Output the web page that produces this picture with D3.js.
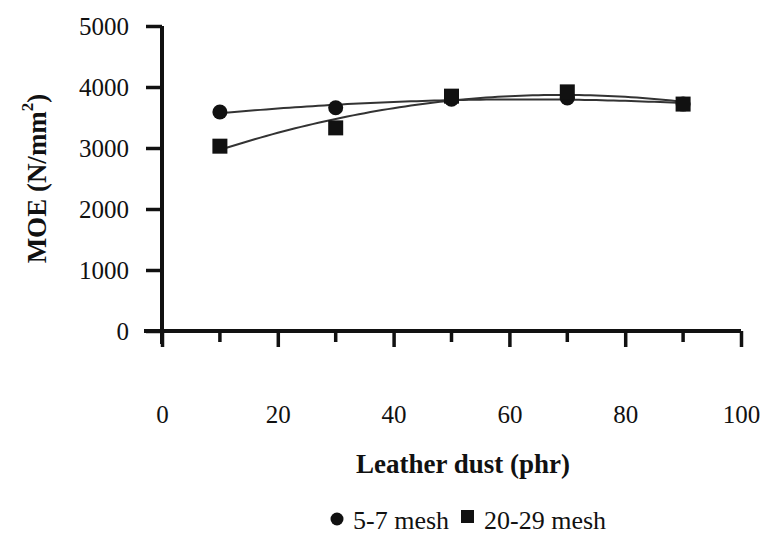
<!DOCTYPE html>
<html><head><meta charset="utf-8">
<script src="https://cdn.jsdelivr.net/npm/d3@7"></script>
<style>body{margin:0;background:#fff}svg{display:block}text{font-family:"Liberation Serif","Times New Roman",serif;fill:#111}</style>
</head><body><svg id="c" width="764" height="537"></svg>
<script>
const xValues = [10, 30, 50, 70, 90];
const mesh57 = [3590, 3660, 3800, 3820, 3720];
const mesh2029 = [3030, 3330, 3850, 3920, 3720];
const seriesNames = ["5-7 mesh", "20-29 mesh"];
const xTicks = [0, 20, 40, 60, 80, 100];
const xMinorTicks = [10, 30, 50, 70, 90];
const yTicks = [0, 1000, 2000, 3000, 4000, 5000];

const svg = d3.select("#c");
const x = d3.scaleLinear().domain([0, 100]).range([162, 741]);
const y = d3.scaleLinear().domain([0, 5000]).range([331, 26]);

// quadratic trendline fit (least squares)
function polyFit(xs, ys, deg) {
  const n = deg + 1;
  const A = Array.from({length: n}, () => new Array(n + 1).fill(0));
  for (let i = 0; i < xs.length; i++) {
    for (let r = 0; r < n; r++) {
      for (let c = 0; c < n; c++) A[r][c] += Math.pow(xs[i], r + c);
      A[r][n] += ys[i] * Math.pow(xs[i], r);
    }
  }
  for (let i = 0; i < n; i++) {
    let p = i;
    for (let k = i + 1; k < n; k++) if (Math.abs(A[k][i]) > Math.abs(A[p][i])) p = k;
    [A[i], A[p]] = [A[p], A[i]];
    for (let k = 0; k < n; k++) if (k !== i) {
      const f = A[k][i] / A[i][i];
      for (let c = i; c <= n; c++) A[k][c] -= f * A[i][c];
    }
  }
  const coef = A.map((row, i) => row[n] / row[i]);
  return t => coef.reduce((s, c, i) => s + c * Math.pow(t, i), 0);
}

const g = svg.append("g");
// axes
const yAxis = d3.axisLeft(y).tickValues(yTicks).tickSize(16).tickPadding(17).tickFormat(d3.format("d"));
const yg = g.append("g").attr("transform", `translate(${x(0)},0)`).call(yAxis);
yg.select(".domain").attr("d", `M0,${y(5000)}V${y(0) + 13}`).attr("stroke", "#111").attr("stroke-width", 4).attr("fill", "none");
yg.selectAll(".tick line").attr("stroke", "#111").attr("stroke-width", 3.5);
yg.selectAll(".tick text").style("font-size", "25px").attr("fill", "#111");

const xAxis = d3.axisBottom(x).tickValues(xTicks).tickSize(16).tickPadding(58).tickFormat(d3.format("d"));
const xg = g.append("g").attr("transform", `translate(0,${y(0)})`).call(xAxis);
xg.select(".domain").attr("d", `M${x(0) - 18},0H${x(100)}`).attr("stroke", "#111").attr("stroke-width", 4);
xg.selectAll(".tick line").attr("stroke", "#111").attr("stroke-width", 3.5);
xg.selectAll(".tick").filter(d => d === 0).select("line").attr("y1", -2);
xg.selectAll(".tick text").style("font-size", "25px").attr("fill", "#111");
xg.selectAll(".minor").data(xMinorTicks).enter().append("line")
  .attr("x1", d => x(d)).attr("x2", d => x(d)).attr("y1", 0).attr("y2", 11)
  .attr("stroke", "#111").attr("stroke-width", 3.5);

// trendlines
const line = d3.line().x(d => x(d[0])).y(d => y(d[1]));
[mesh57, mesh2029].forEach(vals => {
  const f = polyFit(xValues, vals, 2);
  const pts = d3.range(10, 90.01, 1).map(t => [t, f(t)]);
  g.append("path").attr("d", line(pts)).attr("fill", "none").attr("stroke", "#333").attr("stroke-width", 2);
});

// markers
g.selectAll(".c57").data(xValues).enter().append("circle")
  .attr("cx", (d) => x(d)).attr("cy", (d, i) => y(mesh57[i])).attr("r", 7.5).attr("fill", "#111");
g.selectAll(".s2029").data(xValues).enter().append("rect")
  .attr("x", d => x(d) - 7.5).attr("y", (d, i) => y(mesh2029[i]) - 7.5).attr("width", 15).attr("height", 15).attr("fill", "#111");

// titles
svg.append("text").attr("transform", `translate(46,${(y(0) + y(5000)) / 2}) rotate(-90)`)
  .attr("text-anchor", "middle").style("font-size", "27px").style("font-weight", "bold")
  .html('MOE (N/mm<tspan dy="-13" font-size="17">2</tspan><tspan dy="13">)</tspan>');
svg.append("text").attr("x", 463).attr("y", 473).attr("text-anchor", "middle")
  .style("font-size", "27px").style("font-weight", "bold").text("Leather dust (phr)");

// legend
const lg = svg.append("g");
lg.append("circle").attr("cx", 337).attr("cy", 519).attr("r", 6.5).attr("fill", "#111");
lg.append("text").attr("x", 353).attr("y", 529).style("font-size", "26px").text(seriesNames[0]);
lg.append("rect").attr("x", 461).attr("y", 510).attr("width", 13).attr("height", 13).attr("fill", "#111");
lg.append("text").attr("x", 484).attr("y", 529).style("font-size", "26px").text(seriesNames[1]);
</script></body></html>
